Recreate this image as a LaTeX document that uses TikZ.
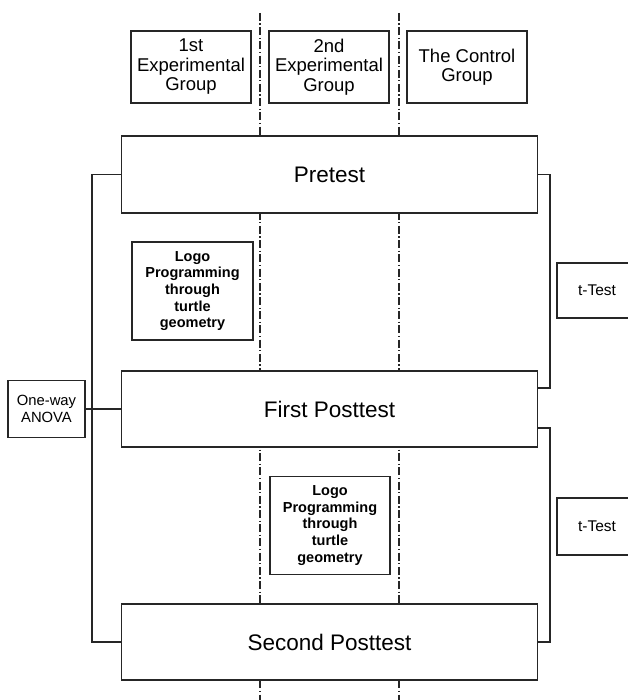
\documentclass[tikz,border=0pt]{standalone}
\usepackage{fontspec}
\setmainfont{Liberation Sans}
\begin{document}
\begin{tikzpicture}[x=1pt,y=-1pt,
  box/.style={draw=black!85,line width=1.6pt,fill=white,inner sep=0pt,align=center},
  grp/.style={box,line width=1.2pt,minimum width=120pt,minimum height=72pt,font=\fontsize{18.5}{19.5}\selectfont},
  big/.style={box,line width=1.8pt,minimum width=416pt,font=\fontsize{22.5}{26}\selectfont},
  logo/.style={box,line width=1.6pt,minimum width=121pt,minimum height=98pt,font=\bfseries\fontsize{14.5}{16.7}\selectfont},
  stat/.style={box,line width=1.6pt,font=\fontsize{14.8}{16.5}\selectfont},
  divider/.style={line width=1.3pt,black!85,dash pattern=on 8pt off 2.5pt on 1.2pt off 2.5pt},
  link/.style={line width=1.6pt,black!85}]
\useasboundingbox (0,0) rectangle (627,700);
% column dividers
\coordinate (d1t) at (260,13);
\coordinate (d1b) at (260,700);
\coordinate (d2t) at (399,13);
\coordinate (d2b) at (399,700);
\draw[divider] (d1t) -- (d1b);
\draw[divider] (d2t) -- (d2b);
% group headers
\node[grp] (g1) at (191,67) {1st\\Experimental\\Group};
\node[grp] (g2) at (329,67) {2nd\\Experimental\\Group};
\node[grp] (g3) at (467,67) {The Control\\Group};
% tests
\node[big,minimum height=77pt] (pre) at (329.5,174.5) {Pretest};
\node[big,minimum height=76pt] (post1) at (329.5,409) {First Posttest};
\node[big,minimum height=76pt] (post2) at (329.5,642) {Second Posttest};
% treatments
\node[logo] (logo1) at (192.5,291) {Logo\\Programming\\through\\turtle\\geometry};
\node[logo,minimum width=120pt] (logo2) at (330,525.5) {Logo\\Programming\\through\\turtle\\geometry};
% statistics
\node[stat,minimum width=77pt,minimum height=57pt] (anova) at (46.5,409) {One-way\\ANOVA};
\node[stat,minimum width=80pt,minimum height=55pt,font=\fontsize{15.5}{17}\selectfont] (tt1) at (597,290.5) {t-Test};
\node[stat,minimum width=80pt,minimum height=57pt,font=\fontsize{15.5}{17}\selectfont] (tt2) at (597,526.5) {t-Test};
% left bracket
\coordinate (lx) at (92,0);
\draw[link] (pre.west) -- (pre.west -| lx) -- (post2.west -| lx) -- (post2.west);
\draw[link] (anova.east) -- (anova.east -| post1.west);
% right brackets
\coordinate (rx) at (550,0);
\coordinate (p1a) at ([yshift=21pt]post1.east);
\coordinate (p1b) at ([yshift=-19pt]post1.east);
\draw[link] (pre.east) -- (pre.east -| rx) -- (p1a -| rx) -- (p1a);
\draw[link,line width=1.2pt] (p1b) -- (p1b -| rx) -- (post2.east -| rx) -- (post2.east);
\end{tikzpicture}
\end{document}
